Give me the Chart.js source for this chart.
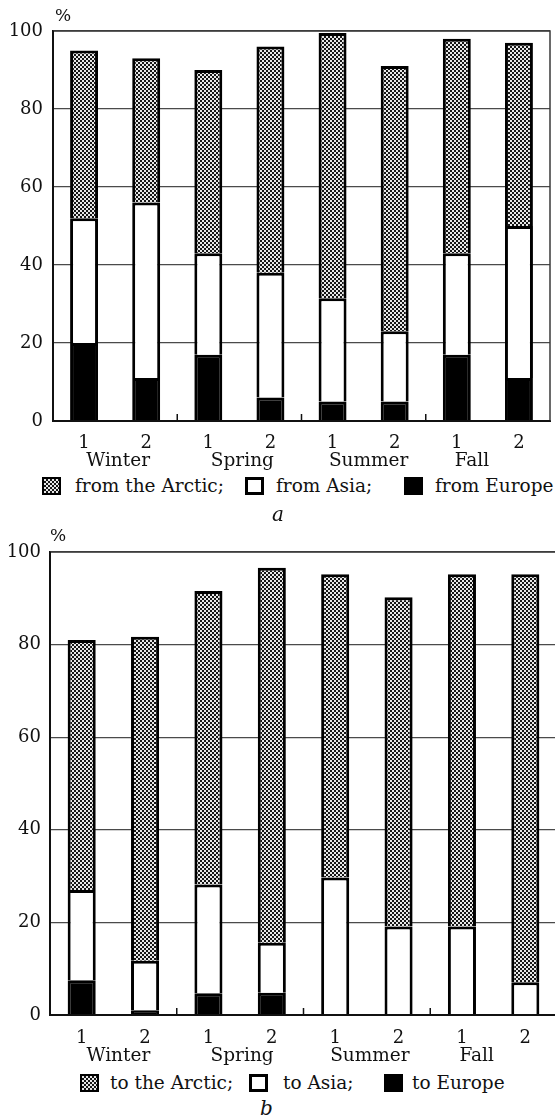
<!DOCTYPE html>
<html><head><meta charset="utf-8">
<script src="https://cdn.jsdelivr.net/npm/chart.js@4.4.1/dist/chart.umd.min.js"></script>
<style>
html,body{margin:0;padding:0;background:#fff;width:555px;height:1120px;overflow:hidden;position:relative;font-family:"DejaVu Serif",serif;color:#111;}
.abs{position:absolute;white-space:nowrap;}
.wrap{position:absolute;left:0;}
canvas{display:block;}
.t{font-size:18.5px;line-height:20px;height:20px;}
.sw{position:absolute;width:19px;height:18px;box-sizing:border-box;border:2px solid #000;}
.pat{background:repeating-conic-gradient(#161616 0 25%, #e8e8e8 0 50%) 0 0/4px 4px;}
.wh{background:#fff;border-width:3px;}
.bk{background:#000;}
</style></head>
<body>
<div class="wrap" style="top:0;width:555px;height:470px;"><canvas id="cA" width="555" height="470"></canvas></div>
<div class="wrap" style="top:520px;width:560px;height:545px;"><canvas id="cB" width="560" height="545"></canvas></div>

<div class="abs" style="left:55px;top:5px;font-size:17px;">%</div>
<div class="abs" style="left:50px;top:525px;font-size:17px;">%</div>

<div class="sw pat" style="left:42px;top:477px;"></div>
<div class="abs t" style="left:75px;top:476px;">from the Arctic;</div>
<div class="sw wh" style="left:245px;top:477px;"></div>
<div class="abs t" style="left:276px;top:476px;">from Asia;</div>
<div class="sw bk" style="left:404px;top:477px;"></div>
<div class="abs t" style="left:435px;top:476px;">from Europe</div>
<div class="abs" style="left:272px;top:502px;font-size:20px;font-style:italic;">a</div>

<div class="sw pat" style="left:80px;top:1074px;"></div>
<div class="abs t" style="left:110px;top:1073px;">to the Arctic;</div>
<div class="sw wh" style="left:249px;top:1074px;"></div>
<div class="abs t" style="left:283px;top:1073px;">to Asia;</div>
<div class="sw bk" style="left:384px;top:1074px;"></div>
<div class="abs t" style="left:412px;top:1073px;">to Europe</div>
<div class="abs" style="left:260px;top:1096px;font-size:20px;font-style:italic;">b</div>

<script>
// ---- data ----
const categories = ['1','2','1','2','1','2','1','2'];
const seasons = ['Winter','Spring','Summer','Fall'];
const yTicks = [0,20,40,60,80,100];
const fromEurope = [20, 11, 17, 6, 5, 5, 17, 11];
const fromAsia   = [32, 45, 26, 32, 26.5, 18, 26, 39];
const fromArctic = [43, 37, 47, 58, 68, 68, 55, 47];
const toEurope = [7.5, 1, 4.7, 4.8, 0, 0, 0, 0];
const toAsia   = [19.5, 10.7, 23.5, 10.8, 29.7, 19.1, 19.1, 7.1];
const toArctic = [54, 70, 63.4, 81, 65.5, 71.1, 76.1, 88.1];

function makePattern(){
  const c = document.createElement('canvas'); c.width = 4; c.height = 4;
  const x = c.getContext('2d');
  x.fillStyle = '#e8e8e8'; x.fillRect(0,0,4,4);
  x.fillStyle = '#161616'; x.fillRect(0,0,2,2); x.fillRect(2,2,2,2);
  return x.createPattern(c, 'repeat');
}
const FONT = '"DejaVu Serif", serif';

const decor = {
  id: 'decor',
  afterDraw(chart, args, opts){
    const {ctx, chartArea: a, scales: {x}} = chart;
    ctx.save();
    ctx.lineCap = 'butt';
    // frame (top and right)
    ctx.strokeStyle = '#3a3a3a'; ctx.lineWidth = 1.5;
    ctx.beginPath(); ctx.moveTo(a.left, a.top); ctx.lineTo(a.right, a.top); ctx.lineTo(a.right, a.bottom); ctx.stroke();
    // axes
    ctx.strokeStyle = '#111'; ctx.lineWidth = 2;
    ctx.beginPath(); ctx.moveTo(a.left, a.top); ctx.lineTo(a.left, a.bottom); ctx.lineTo(a.right, a.bottom); ctx.stroke();
    // inward ticks at season boundaries
    ctx.lineWidth = 1.5;
    ctx.beginPath();
    for (let s = 1; s < seasons.length; s++){
      const px = (x.getPixelForValue(2*s-1) + x.getPixelForValue(2*s)) / 2;
      ctx.moveTo(px, a.bottom); ctx.lineTo(px, a.bottom - 7);
    }
    ctx.stroke();
    // season labels
    ctx.font = '18.5px ' + FONT; ctx.fillStyle = '#111';
    ctx.textAlign = 'center'; ctx.textBaseline = 'middle';
    seasons.forEach((s, i) => {
      const px = (x.getPixelForValue(2*i) + x.getPixelForValue(2*i+1)) / 2 + opts.offsets[i];
      ctx.fillText(s, px, a.bottom + opts.dy);
    });
    ctx.restore();
  }
};

function build(id, eu, as, ar, names, cfg){
  const pat = makePattern();
  return new Chart(document.getElementById(id), {
    type: 'bar',
    data: {
      labels: categories,
      datasets: [
        {label: names[0], data: eu, backgroundColor: '#000', borderColor: '#000', borderWidth: 3},
        {label: names[1], data: as, backgroundColor: '#fff', borderColor: '#000', borderWidth: 3},
        {label: names[2], data: ar, backgroundColor: pat, borderColor: '#000', borderWidth: 3}
      ]
    },
    options: {
      responsive: false, animation: false, devicePixelRatio: 1,
      layout: {padding: cfg.padding},
      datasets: {bar: {categoryPercentage: 1, barPercentage: cfg.barPct, inflateAmount: 0}},
      plugins: {legend: {display: false}, tooltip: {enabled: false}, decor: {offsets: cfg.offsets, dy: cfg.seasonDy}},
      scales: {
        x: {
          stacked: true,
          grid: {display: false},
          border: {display: true, color: '#111', width: 2},
          ticks: {font: {family: FONT, size: 18}, color: '#111', padding: cfg.xPad, maxRotation: 0, autoSkip: false},
          afterFit(s){ s.height = cfg.xH; }
        },
        y: {
          stacked: true, min: 0, max: 100,
          afterBuildTicks(s){ s.ticks = yTicks.map(v => ({value: v})); },
          grid: {color: '#4a4a4a', lineWidth: 1.3, drawTicks: false},
          border: {display: true, color: '#111', width: 2},
          ticks: {font: {family: FONT, size: 18}, color: '#111', padding: cfg.yPad},
          afterFit(s){ s.width = cfg.yW; }
        }
      }
    },
    plugins: [decor]
  });
}

build('cA', fromEurope, fromAsia, fromArctic, ['from Europe','from Asia','from the Arctic'],
  {padding: {top: 31, right: 5, left: 0, bottom: 0}, barPct: 0.45, xH: 49, yW: 53, xPad: 4, yPad: 10, seasonDy: 40, offsets: [3, 3, 5, -16]});
build('cB', toEurope, toAsia, toArctic, ['to Europe','to Asia','to the Arctic'],
  {padding: {top: 32, right: 3, left: 0, bottom: 0}, barPct: 0.443, xH: 50, yW: 50, xPad: 5, yPad: 9, seasonDy: 41, offsets: [5, 2, 3, -17]});
</script>
</body></html>
